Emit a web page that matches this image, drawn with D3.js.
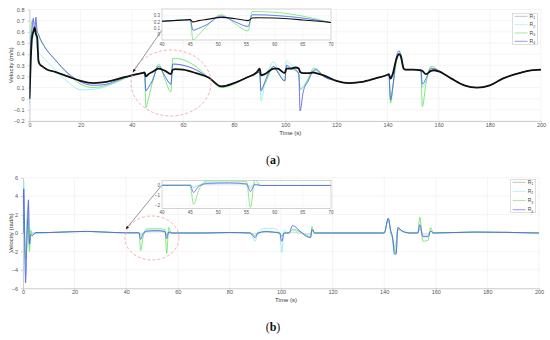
<!DOCTYPE html>
<html>
<head>
<meta charset="utf-8">
<script src="https://cdn.jsdelivr.net/npm/d3@7"></script>
<style>
  body { margin: 0; background: #fff; }
  text { font-family: "Liberation Sans", Arial, sans-serif; }
</style>
</head>
<body>
<svg id="chart" width="550" height="340"></svg>
<script>
// series
var seriesNames = ['1', '2', '3', '4'];
var seriesColors = ['#111111', '#86eeee', '#5ee35e', '#5252f0'];

// panel (a): linear velocity (m/s)
var timeA = [0, 0.5, 1, 1.5, 2, 2.5, 3, 3.5, 4, 5, 7, 10, 15, 20, 25, 30, 35, 40, 44, 45, 45.5, 46.5, 48, 50.5, 53, 55.3, 56, 57, 60, 65, 70, 75, 80, 85, 89, 90, 90.5, 92, 95.5, 97, 99.8, 100.5, 102, 104, 105.3, 105.8, 107, 109, 111, 112, 115, 120, 125, 130, 135, 140, 140.5, 141.2, 142, 143.5, 144.5, 145.2, 146.3, 147, 150, 153, 153.6, 155, 157, 158, 160, 165, 170, 175, 180, 185, 190, 195, 200];
var r1A = [0, 0.35, 0.55, 0.6, 0.64, 0.58, 0.55, 0.34, 0.31, 0.29, 0.26, 0.24, 0.2, 0.16, 0.14, 0.15, 0.18, 0.21, 0.23, 0.235, 0.2, 0.22, 0.24, 0.27, 0.25, 0.22, 0.26, 0.265, 0.26, 0.23, 0.19, 0.11, 0.14, 0.19, 0.24, 0.27, 0.21, 0.22, 0.27, 0.27, 0.23, 0.27, 0.27, 0.28, 0.27, 0.24, 0.23, 0.23, 0.235, 0.23, 0.21, 0.16, 0.14, 0.15, 0.18, 0.215, 0.22, 0.18, 0.22, 0.36, 0.4, 0.38, 0.27, 0.26, 0.26, 0.255, 0.25, 0.22, 0.25, 0.255, 0.245, 0.18, 0.12, 0.1, 0.12, 0.18, 0.22, 0.25, 0.26];
var r2A = [-0.05, 0.45, 0.6, 0.55, 0.65, 0.55, 0.45, 0.42, 0.4, 0.38, 0.33, 0.26, 0.15, 0.08, 0.085, 0.11, 0.16, 0.21, 0.23, 0.235, 0.08, 0.1, 0.16, 0.29, 0.2, 0.13, 0.31, 0.31, 0.3, 0.26, 0.19, 0.11, 0.14, 0.19, 0.23, 0.24, -0.02, 0.14, 0.33, 0.26, 0.16, 0.34, 0.31, 0.27, 0.22, 0.09, 0.11, 0.18, 0.26, 0.25, 0.2, 0.16, 0.14, 0.15, 0.18, 0.215, 0.22, -0.02, 0.1, 0.37, 0.41, 0.36, 0.27, 0.26, 0.26, 0.26, 0.1, 0.16, 0.28, 0.27, 0.25, 0.18, 0.12, 0.1, 0.12, 0.18, 0.22, 0.25, 0.26];
var r3A = [0, 0.55, 0.7, 0.69, 0.68, 0.66, 0.6, 0.57, 0.54, 0.5, 0.43, 0.35, 0.22, 0.13, 0.1, 0.12, 0.16, 0.21, 0.23, 0.235, -0.08, 0, 0.14, 0.31, 0.17, 0.06, 0.36, 0.36, 0.35, 0.29, 0.19, 0.1, 0.13, 0.19, 0.23, 0.24, 0.09, 0.13, 0.29, 0.24, 0.16, 0.29, 0.27, 0.25, 0.22, 0.08, 0.1, 0.18, 0.27, 0.27, 0.2, 0.16, 0.14, 0.15, 0.18, 0.215, 0.22, -0.04, 0.08, 0.33, 0.4, 0.4, 0.27, 0.26, 0.26, 0.26, -0.07, 0.13, 0.29, 0.285, 0.25, 0.18, 0.12, 0.1, 0.12, 0.18, 0.22, 0.25, 0.26];
var r4A = [0, 0.5, 0.62, 0.72, 0.6, 0.73, 0.6, 0.58, 0.55, 0.5, 0.43, 0.35, 0.23, 0.15, 0.12, 0.13, 0.17, 0.21, 0.23, 0.235, 0.07, 0.1, 0.16, 0.29, 0.2, 0.13, 0.31, 0.31, 0.3, 0.26, 0.19, 0.11, 0.14, 0.19, 0.23, 0.24, 0.07, 0.15, 0.29, 0.24, 0.16, 0.3, 0.28, 0.26, 0.22, -0.11, 0.06, 0.16, 0.25, 0.26, 0.2, 0.16, 0.14, 0.15, 0.18, 0.215, 0.22, -0.01, 0.1, 0.38, 0.43, 0.39, 0.27, 0.26, 0.26, 0.26, 0.13, 0.18, 0.27, 0.27, 0.25, 0.18, 0.12, 0.1, 0.12, 0.18, 0.22, 0.25, 0.26];

// panel (b): angular velocity (rad/s)
var timeB = [0, 0.3, 0.7, 1, 1.4, 1.8, 2.1, 2.5, 3, 3.6, 5, 10, 20, 25, 30, 40, 45, 45.6, 46.5, 48, 52, 55, 55.7, 56.5, 57.5, 70, 80, 88, 90, 91, 94, 97, 99.5, 100.3, 101.2, 103, 104.5, 107, 110, 111.5, 112, 113, 120, 140, 141.6, 142.5, 143.2, 144, 144.6, 145.3, 147, 150, 153, 153.8, 155, 157, 158, 159, 175, 200];
var r1B = [0, 4, -2, -3.5, 0.5, 2, 2.5, -1, -0.3, 0, 0, 0.05, 0.15, 0.17, 0.12, 0.02, 0.02, -0.2, 0, 0.1, 0.15, 0.1, -0.1, 0.05, 0, 0, 0.05, 0, -0.1, 0, 0.1, 0.05, 0, -0.3, 0, 0, 0.1, 0, -0.1, -0.1, 0.2, 0, 0, 0, 1.4, 0.2, -0.5, -1.5, -1, 0.3, 0.2, 0, 0, 0.4, -0.1, -0.1, 0.2, 0, 0.1, 0];
var r2B = [0, 5.6, -3, -4.5, 1, 2.5, 3, -1.5, -0.2, 0, 0, 0.05, 0.15, 0.17, 0.12, 0.02, 0.02, -0.2, 0, 0.3, 0.3, 0.2, -0.3, 0.2, 0, 0, 0.05, 0, -0.9, 0.1, 0.5, 0.5, 0, -2.1, 0.3, 0, 0.3, 0.1, -0.2, -0.2, 0.3, 0, 0, 0, 1.5, 0.2, -0.6, -2.2, -1.2, 0.4, 0.2, 0, 0, 0.6, -0.3, -0.3, 0.2, 0, 0.1, 0];
var r3B = [0, 2, -1.5, -2.8, -1.5, 1.5, 0.5, -2, 0.3, -0.2, 0, 0.05, 0.15, 0.17, 0.12, 0.02, 0.02, -1.9, -0.5, 0.45, 0.45, 0.4, -2.2, 0.6, 0, 0, 0.05, 0, -0.3, -0.1, 0.2, 0.1, 0, -0.4, 0, 0, 0.4, 0.2, -0.3, -0.4, 0.7, 0, 0, 0, 1.6, 0, -0.5, -1.8, -2.2, 0.5, 0.2, 0, 0, 1.7, -0.9, -0.8, 0.6, 0, 0.1, 0];
var r4B = [0, 4.8, -1, -5.4, -2, 1.5, 3.6, -1.2, -0.2, -0.3, 0.05, 0.05, 0.15, 0.17, 0.12, 0.02, 0.02, -0.7, -0.1, 0.2, 0.25, 0.15, -0.6, 0.1, 0, 0, 0.05, 0, -0.5, 0, 0.15, 0.1, 0, -0.9, 0, 0, 0.8, 0.3, -0.4, -0.5, 0.4, 0, 0, 0, 1.6, 0.3, -0.4, -2.3, -2.3, 0.6, 0.2, 0, 0, 0.9, -0.4, -0.4, 0.2, 0, 0.1, 0];

// axis ticks
var timeTicks = [0, 20, 40, 60, 80, 100, 120, 140, 160, 180, 200];
var insetTimeTicks = [40, 45, 50, 55, 60, 65, 70];
var velTicksA = [-0.2, -0.1, 0, 0.1, 0.2, 0.3, 0.4, 0.5, 0.6, 0.7, 0.8];
var velTicksB = [-6, -4, -2, 0, 2, 4, 6];
var insetTicksA = [0, 0.1, 0.2, 0.3];
var insetTicksB = [-2, -1, 0];

var svg = d3.select('#chart');
var clipId = 0;

function toRows(time, values) {
  return time.map(function(t, i) { return { t: t, v: values[i] }; });
}

function drawLines(g, x, y, time, series, style) {
  var line = d3.line()
    .curve(d3.curveMonotoneX)
    .x(function(d) { return x(d.t); })
    .y(function(d) { return y(d.v); });
  style.order.forEach(function(i) {
    g.append('path')
      .datum(toRows(time, series[i]))
      .attr('fill', 'none')
      .attr('stroke', style.colors[i])
      .attr('stroke-width', style.widths[i])
      .attr('stroke-linejoin', 'round')
      .attr('d', line);
  });
}

function clipped(g, x0, y0, w, h) {
  clipId += 1;
  var id = 'clip' + clipId;
  svg.append('clipPath').attr('id', id)
    .append('rect').attr('x', x0).attr('y', y0).attr('width', w).attr('height', h);
  return g.append('g').attr('clip-path', 'url(#' + id + ')');
}

function drawPanel(p) {
  var g = svg.append('g');
  var x = d3.scaleLinear().domain([0, 200]).range(p.xRange);
  var y = d3.scaleLinear().domain(p.yDomain).range(p.yRange);

  // grid
  g.selectAll('line.vgrid').data(timeTicks).enter().append('line')
    .attr('x1', x).attr('x2', x)
    .attr('y1', p.yRange[0]).attr('y2', p.yRange[1])
    .attr('stroke', '#ececec').attr('stroke-width', 0.6);
  g.selectAll('line.hgrid').data(p.yTicks).enter().append('line')
    .attr('x1', p.xRange[0]).attr('x2', p.xRange[1])
    .attr('y1', y).attr('y2', y)
    .attr('stroke', '#ececec').attr('stroke-width', 0.6);

  // axes
  var xAxis = d3.axisBottom(x).tickValues(timeTicks).tickSize(2).tickSizeOuter(0);
  var yAxis = d3.axisLeft(y).tickValues(p.yTicks).tickSize(2).tickSizeOuter(0)
    .tickFormat(function(d) { return d3.format('~g')(d); });
  var gx = g.append('g').attr('transform', 'translate(0,' + p.yRange[0] + ')').call(xAxis);
  var gy = g.append('g').attr('transform', 'translate(' + p.xRange[0] + ',0)').call(yAxis);
  [gx, gy].forEach(function(a) {
    a.selectAll('path,line').attr('stroke', '#bdbdbd').attr('stroke-width', 0.7);
    a.selectAll('text').attr('fill', '#555').attr('font-size', 5.5)
      .style('font-family', '"Liberation Sans", Arial, sans-serif');
  });
  gx.selectAll('text').attr('dy', '0.5em').attr('y', 3);

  g.append('text')
    .attr('x', (p.xRange[0] + p.xRange[1]) / 2 + 5).attr('y', p.yRange[0] + 14)
    .attr('text-anchor', 'middle').attr('font-size', 6).attr('fill', '#333')
    .text('Time (s)');
  g.append('text')
    .attr('transform', 'translate(13,' + ((p.yRange[0] + p.yRange[1]) / 2) + ') rotate(-90)')
    .attr('text-anchor', 'middle').attr('font-size', 6).attr('fill', '#333')
    .text(p.yLabel);

  // curves
  var area = clipped(g, p.xRange[0], p.yRange[1], p.xRange[1] - p.xRange[0], p.yRange[0] - p.yRange[1]);
  drawLines(area, x, y, p.time, p.series, p.style);

  // highlight ellipse and arrow
  g.append('ellipse')
    .attr('cx', p.ellipse[0]).attr('cy', p.ellipse[1])
    .attr('rx', p.ellipse[2]).attr('ry', p.ellipse[3])
    .attr('fill', 'none').attr('stroke', '#f29a9a').attr('stroke-width', 0.8)
    .attr('stroke-dasharray', '3,2');
  g.append('line')
    .attr('x1', p.arrow[0]).attr('y1', p.arrow[1])
    .attr('x2', p.arrow[2]).attr('y2', p.arrow[3])
    .attr('stroke', '#333').attr('stroke-width', 0.5)
    .attr('marker-end', 'url(#arrowHead)');

  // inset
  var ix = d3.scaleLinear().domain([40, 70]).range(p.insetX);
  var iy = d3.scaleLinear().domain(p.insetDomain).range(p.insetY);
  var ig = g.append('g');
  ig.append('rect')
    .attr('x', p.insetX[0]).attr('y', p.insetY[1])
    .attr('width', p.insetX[1] - p.insetX[0]).attr('height', p.insetY[0] - p.insetY[1])
    .attr('fill', '#fff').attr('stroke', '#b5b5b5').attr('stroke-width', 0.6);
  ig.selectAll('line.ivgrid').data(insetTimeTicks).enter().append('line')
    .attr('x1', ix).attr('x2', ix).attr('y1', p.insetY[0]).attr('y2', p.insetY[1])
    .attr('stroke', '#efefef').attr('stroke-width', 0.5);
  ig.selectAll('line.ihgrid').data(p.insetTicks).enter().append('line')
    .attr('x1', p.insetX[0]).attr('x2', p.insetX[1]).attr('y1', iy).attr('y2', iy)
    .attr('stroke', '#efefef').attr('stroke-width', 0.5);
  ig.selectAll('text.ixl').data(insetTimeTicks).enter().append('text')
    .attr('x', ix).attr('y', p.insetY[0] + 5.5)
    .attr('text-anchor', 'middle').attr('font-size', 4.5).attr('fill', '#555')
    .text(function(d) { return d; });
  ig.selectAll('text.iyl').data(p.insetTicks).enter().append('text')
    .attr('x', p.insetX[0] - 2).attr('y', function(d) { return iy(d) + 1.6; })
    .attr('text-anchor', 'end').attr('font-size', 4.5).attr('fill', '#555')
    .text(function(d) { return d3.format('~g')(d); });
  var iarea = clipped(ig, p.insetX[0], p.insetY[1], p.insetX[1] - p.insetX[0], p.insetY[0] - p.insetY[1]);
  drawLines(iarea, ix, iy, p.time, p.series, p.insetStyle);

  // legend
  var lg = g.append('g').attr('transform', 'translate(' + p.legend[0] + ',' + p.legend[1] + ')');
  lg.append('rect').attr('width', 25).attr('height', p.legend[2])
    .attr('fill', '#fff').attr('stroke', '#c8c8c8').attr('stroke-width', 0.6);
  var step = (p.legend[2] - 6) / 3;
  seriesNames.forEach(function(name, i) {
    var yy = 3 + i * step;
    lg.append('line').attr('x1', 2).attr('x2', 15).attr('y1', yy).attr('y2', yy)
      .attr('stroke', i === 0 ? '#999' : seriesColors[i]).attr('stroke-width', 0.6);
    var t = lg.append('text').attr('x', 17).attr('y', yy + 1.8)
      .attr('font-size', 5).attr('fill', '#444').text('R');
    t.append('tspan').attr('dy', 1.2).attr('font-size', 3.5).text(name);
  });

  // panel label
  var lab = svg.append('text').attr('x', 273).attr('y', p.labelY)
    .attr('text-anchor', 'middle').attr('font-size', 12).attr('fill', '#111')
    .style('font-family', '"Liberation Serif", "DejaVu Serif", serif');
  lab.append('tspan').text('(');
  lab.append('tspan').attr('font-weight', 'bold').text(p.label);
  lab.append('tspan').text(')');
}

var defs = svg.append('defs');
defs.append('marker').attr('id', 'arrowHead')
  .attr('viewBox', '0 0 10 10').attr('refX', 9).attr('refY', 5)
  .attr('markerWidth', 7).attr('markerHeight', 7).attr('orient', 'auto')
  .append('path').attr('d', 'M0,1 L10,5 L0,9 Z').attr('fill', '#111');

var colorsB = ['#c4c4c4', seriesColors[1], seriesColors[2], seriesColors[3]];

drawPanel({
  time: timeA, series: [r1A, r2A, r3A, r4A],
  style: { order: [1, 2, 3, 0], colors: seriesColors, widths: [1.8, 0.8, 0.8, 0.8] },
  insetStyle: { order: [1, 2, 3, 0], colors: seriesColors, widths: [1.1, 0.7, 0.7, 0.7] },
  xRange: [29.5, 541], yDomain: [-0.2, 0.8], yRange: [121, 9.5], yTicks: velTicksA,
  yLabel: 'Velocity (m/s)',
  insetX: [162, 331], insetDomain: [-0.08, 0.4], insetY: [40, 9], insetTicks: insetTicksA,
  ellipse: [171, 83, 40, 33], arrow: [162, 30, 133, 72],
  legend: [512.5, 13.3, 31], label: 'a', labelY: 164
});

drawPanel({
  time: timeB, series: [r1B, r2B, r3B, r4B],
  style: { order: [0, 1, 2, 3], colors: colorsB, widths: [0.7, 0.8, 0.8, 0.8] },
  insetStyle: { order: [0, 1, 2, 3], colors: colorsB, widths: [0.6, 0.7, 0.7, 0.7] },
  xRange: [23, 539], yDomain: [-6, 6], yRange: [288.3, 177.7], yTicks: velTicksB,
  yLabel: 'Velocity (rad/s)',
  insetX: [162, 331], insetDomain: [-2.3, 0.5], insetY: [208.3, 180.5], insetTicks: insetTicksB,
  ellipse: [152, 238, 27, 22], arrow: [162, 185, 126, 229],
  legend: [510.7, 179.3, 33.4], label: 'b', labelY: 331
});
</script>
</body>
</html>
